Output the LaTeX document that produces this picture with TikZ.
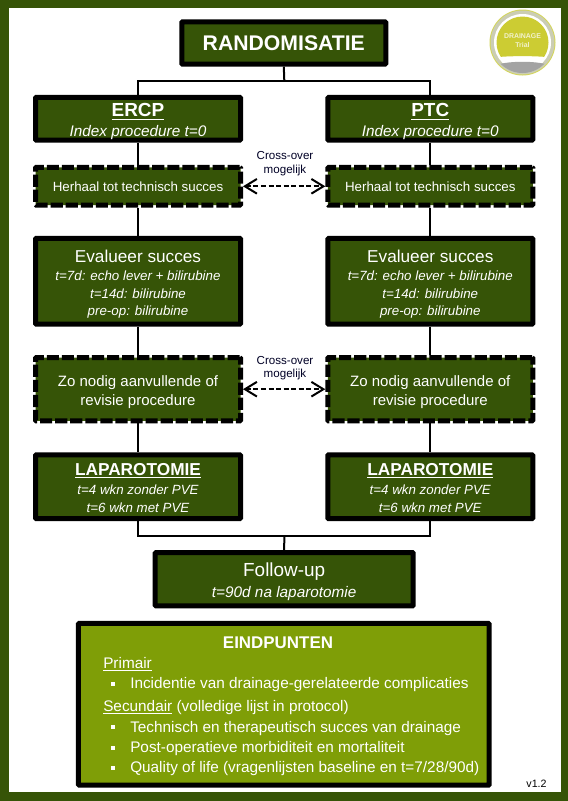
\documentclass[tikz,border=0pt]{standalone}
\usepackage{fontspec}
\setmainfont{Liberation Sans}
\usetikzlibrary{arrows.meta}
\definecolor{dkgreen}{HTML}{365407}
\definecolor{ltgreen}{HTML}{7F9E07}
\definecolor{logoyellow}{HTML}{CCCC33}
\definecolor{logogrey}{HTML}{A3A3A3}
\definecolor{logoring}{HTML}{CBCDB4}
\definecolor{logoedge}{HTML}{D4D65A}
\newcommand{\fs}[1]{\fontsize{#1}{#1}\selectfont}
\newcommand{\ls}[2]{\fontsize{#1}{#2}\selectfont}
\newcommand{\down}[1]{\rule{0pt}{#1pt}}
\tikzset{
  x=0.75pt,y=-0.75pt,
  solidbox/.style={draw=black,line width=3.75pt,fill=dkgreen,text=white,align=center,inner sep=0pt,rounded corners=0.6pt},
  dashbox/.style={solidbox,dash pattern=on 9.1pt off 2.2pt},
  conn/.style={draw=black,line width=1.5pt},
  cross/.style={draw=black,line width=1.5pt,dash pattern=on 3.75pt off 1.9pt,{Straight Barb[length=9pt,width=11pt,line width=1.5pt]}-{Straight Barb[length=9pt,width=11pt,line width=1.5pt]}},
  crosslabel/.style={align=center,inner sep=0pt,text=black!85!blue,font=\ls{8.7}{10}},
  eind/.style={anchor=base west,inner sep=0pt,text=white,font=\fs{11.5}},
  bullet/.style={fill=white,minimum size=3pt,inner sep=0pt},
  bw/.style={minimum width=153.75pt},
  hdrbox/.style={solidbox,bw,minimum height=32pt,font=\ls{11.5}{14.6}},
  repbox/.style={dashbox,bw,minimum height=28.3pt,font=\fs{10}},
  evalbox/.style={solidbox,bw,minimum height=64.3pt,font=\ls{10}{13.2}},
  zobox/.style={dashbox,bw,minimum height=47.5pt,font=\ls{11.25}{14.3}},
  lapbox/.style={solidbox,bw,minimum height=47.8pt,font=\ls{10}{13.3}}
}
\begin{document}
\begin{tikzpicture}
\useasboundingbox (0,0) rectangle (568,801);
\fill[dkgreen] (0,0) rectangle (568,801);
\fill[white] (9,8) rectangle (561,792);

% logo
\fill[logoedge] (522.5,42.5) circle (33);
\fill[logoring] (522.5,42.5) circle (32);
\fill[white] (522.5,42.5) circle (28.5);
\begin{scope}
\clip (522.5,42.5) circle (26);
\fill[logoyellow] (490,10) -- (555,10) -- (555,58) .. controls (540,55.5) and (505,55.5) .. (490,58) -- cycle;
\end{scope}
\begin{scope}
\clip (522.5,42.5) circle (30.5);
\fill[logogrey] (490,67) .. controls (505,60) and (540,60) .. (555,67) -- (555,80) -- (490,80) -- cycle;
\end{scope}
\node[inner sep=0pt,align=center,text=white!75!logoyellow,font=\bfseries\ls{5.2}{6.75}] (logo) at (522.5,41) {DRAINAGE\\Trial};

% boxes
\node[solidbox,minimum width=153pt,minimum height=31.8pt,font=\bfseries\fs{15.9}] (rand) at (283.8,43) {RANDOMISATIE};
\coordinate (split) at (284.3,80.7);

\node[hdrbox] (ercp) at (138,118.8) {\down{14}{\bfseries\fs{14.2}\underline{ERCP}}\\\itshape Index procedure t=0};
\node[hdrbox] (ptc) at (430.3,118.8) {\down{14}{\bfseries\fs{14.2}\underline{PTC}}\\\itshape Index procedure t=0};

\node[repbox] (rl) at (138,186.3) {Herhaal tot technisch succes};
\node[repbox] (rr) at (430.3,186.3) {Herhaal tot technisch succes};

\node[evalbox] (el) at (138,281.3) {\down{13.8}{\fs{12.9}Evalueer succes}\\[0.7pt]\itshape t=7d: echo lever + bilirubine\\\itshape t=14d: bilirubine\\\itshape pre-op: bilirubine};
\node[evalbox] (er) at (430.3,281.3) {\down{13.8}{\fs{12.9}Evalueer succes}\\[0.7pt]\itshape t=7d: echo lever + bilirubine\\\itshape t=14d: bilirubine\\\itshape pre-op: bilirubine};

\node[zobox] (zl) at (138,389.2) {\down{12.5}Zo nodig aanvullende of\\revisie procedure};
\node[zobox] (zr) at (430.3,389.2) {\down{12.5}Zo nodig aanvullende of\\revisie procedure};

\node[lapbox] (ll) at (138,486.7) {\down{10.8}{\bfseries\fs{12.95}\underline{LAPAROTOMIE}}\\[1pt]\itshape t=4 wkn zonder PVE\\\itshape t=6 wkn met PVE};
\node[lapbox] (lr) at (430.3,486.7) {\down{10.8}{\bfseries\fs{12.95}\underline{LAPAROTOMIE}}\\[1pt]\itshape t=4 wkn zonder PVE\\\itshape t=6 wkn met PVE};
\coordinate (merge) at (284.3,535.7);

\node[solidbox,minimum width=193.5pt,minimum height=40pt,font=\ls{11.5}{15.9}] (fu) at (284.2,579.2) {\down{14}{\fs{14.2}Follow-up}\\\itshape t=90d na laparotomie};

\node[solidbox,fill=ltgreen,minimum width=308pt,minimum height=121.3pt] (ep) at (283.8,704.3) {};

% connectors
\draw[conn] (rand.south) -- (split);
\draw[conn] (ercp.north) |- (split);
\draw[conn] (ptc.north) |- (split);
\draw[conn] (ercp.south) -- (rl.north);
\draw[conn] (ptc.south) -- (rr.north);
\draw[conn] (rl.south) -- (el.north);
\draw[conn] (rr.south) -- (er.north);
\draw[conn] (el.south) -- (zl.north);
\draw[conn] (er.south) -- (zr.north);
\draw[conn] (zl.south) -- (ll.north);
\draw[conn] (zr.south) -- (lr.north);
\draw[conn] (ll.south) |- (merge);
\draw[conn] (lr.south) |- (merge);
\draw[conn] (merge) -- (fu.north);

% cross-over
\draw[cross] (rl.east) -- (rr.west);
\draw[cross] (zl.east) -- (zr.west);
\node[crosslabel] (c1) at (285,163.5) {Cross-over\\mogelijk};
\node[crosslabel] (c2) at (285,368) {Cross-over\\mogelijk};

% endpoints
\node[inner sep=0pt,text=white,font=\bfseries\fs{12.7}] (t0) at (278,642.3) {EINDPUNTEN};
\node[eind] (t1) at (103,668.3) {\underline{Primair}};
\node[eind] (t2) at (130,688.3) {Incidentie van drainage-gerelateerde complicaties};
\node[eind] (t3) at (103,711) {\underline{Secundair} (volledige lijst in protocol)};
\node[eind] (t4) at (130,732.3) {Technisch en therapeutisch succes van drainage};
\node[eind] (t5) at (130,752.7) {Post-operatieve morbiditeit en mortaliteit};
\node[eind] (t6) at (130,772.7) {Quality of life (vragenlijsten baseline en t=7/28/90d)};
\node[bullet] (b2) at (112.5,684) {};
\node[bullet] (b4) at (112.5,727.3) {};
\node[bullet] (b5) at (112.5,747.7) {};
\node[bullet] (b6) at (112.5,768) {};

\node[inner sep=0pt,font=\fs{8}] (ver) at (536.5,783.3) {v1.2};
\end{tikzpicture}
\end{document}
